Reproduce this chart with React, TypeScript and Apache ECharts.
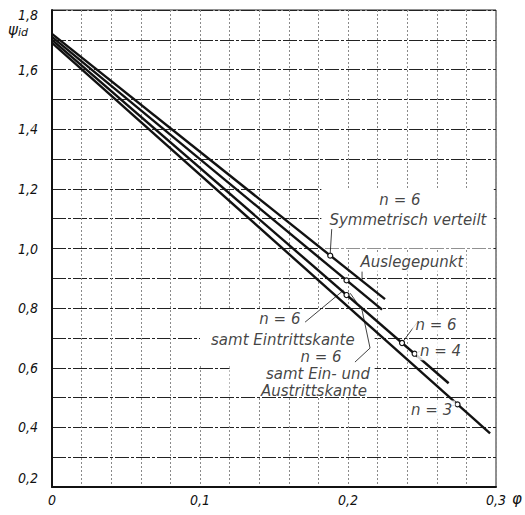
import React, { useEffect, useRef } from "react";
import * as echarts from "echarts";

// ---- data (φ, ψ_id) ----
const curveSymmetrisch: number[][] = [[0, 1.72], [0.225, 0.83]];
const curveEintritt: number[][] = [[0, 1.71], [0.223, 0.795]];
const curveN4: number[][] = [[0, 1.70], [0.268, 0.548]];
const curveN3: number[][] = [[0, 1.69], [0.296, 0.38]];

const designPoints: number[][] = [
  [0.188, 0.976],
  [0.199, 0.893],
  [0.199, 0.844],
  [0.2365, 0.683],
  [0.245, 0.647],
  [0.274, 0.477],
];

const annotationTexts: string[] = [
  "n = 6",
  "Symmetrisch verteilt",
  "Auslegepunkt",
  "n = 6",
  "samt Eintrittskante",
  "n = 6",
  "samt Ein- und",
  "Austrittskante",
  "n = 6",
  "n = 4",
  "n = 3",
];
const annotationPhi: number[] = [0.2351, 0.2405, 0.2432, 0.154, 0.156, 0.1818, 0.1797, 0.177, 0.2595, 0.2625, 0.2565];
const annotationPsi: number[] = [1.162, 1.095, 0.954, 0.762, 0.694, 0.636, 0.578, 0.521, 0.744, 0.657, 0.458];
const annotationBg: boolean[] = [false, false, true, false, false, false, false, false, true, true, true];

const leaders: number[][][] = [
  [[0.189, 1.065], [0.188, 0.985]],
  [[0.171, 0.753], [0.197, 0.86]],
  [[0.2047, 0.619], [0.2149, 0.666], [0.2095, 0.793], [0.2015, 0.85]],
  [[0.2095, 0.925], [0.2095, 0.894]],
  [[0.2473, 0.756], [0.2375, 0.69]],
  [[0.245, 0.647], [0.2485, 0.655]],
  [[0.2685, 0.47], [0.274, 0.477]],
];

// white paste-over areas hiding the grid behind the labels: [φ1, ψ1, φ2, ψ2]
const blankAreas: number[][] = [
  [0.182, 1.2, 0.2985, 1.0],
  [0.1, 0.797, 0.218, 0.61],
  [0.12, 0.61, 0.218, 0.505],
];

const xMin = 0, xMax = 0.3, xStep = 0.02;
const yMin = 0.2, yMax = 1.8, yStep = 0.1;

const tickFont = "'DejaVu Sans Condensed', 'DejaVu Sans', sans-serif";
const noteFont = "'DejaVu Sans', sans-serif";

export default function App() {
  const ref = useRef<HTMLDivElement>(null);
  useEffect(() => {
    document.body.style.margin = "0";
    if (!ref.current) return;
    const chart = echarts.init(ref.current, null, { renderer: "svg" });
    const lineSeries = (data: number[][], extra: any = {}) => ({
      type: "line",
      data,
      symbol: "none",
      z: 3,
      lineStyle: { color: "#111", width: 2.4 },
      silent: true,
      ...extra,
    });
    const tickText = { fontFamily: tickFont, fontStyle: "italic", fontSize: 14, color: "#111" };
    chart.setOption({
      animation: false,
      backgroundColor: "#fff",
      grid: {
        left: 52,
        right: 29,
        top: 10,
        bottom: 28,
        show: true,
        borderColor: "#222",
        borderWidth: 1,
      },
      xAxis: {
        type: "value",
        min: xMin,
        max: xMax,
        interval: xStep,
        name: "φ",
        nameLocation: "end",
        nameGap: 12,
        nameTextStyle: {
          fontFamily: noteFont,
          fontStyle: "italic",
          fontSize: 15,
          color: "#111",
          verticalAlign: "top",
          padding: [4, 0, 0, 0],
        },
        axisLine: { show: true, lineStyle: { color: "#111", width: 2 } },
        axisTick: { show: false },
        axisLabel: {
          margin: 6,
          ...tickText,
          formatter: (v: number) => {
            const t = Math.round(v * 100);
            if (t % 10 !== 0) return "";
            if (t === 0) return "0";
            return (t / 100).toFixed(1).replace(".", ",");
          },
        },
        splitLine: {
          show: true,
          lineStyle: { color: "#8a8a8a", width: 1, type: [2, 2] },
        },
      },
      yAxis: {
        type: "value",
        min: yMin,
        max: yMax,
        interval: yStep,
        name: "{a|ψ}{b|id}",
        nameLocation: "end",
        nameGap: -28,
        nameTextStyle: {
          align: "right",
          padding: [0, 24, 0, 0],
          rich: {
            a: { fontFamily: noteFont, fontStyle: "italic", fontSize: 15, color: "#111" },
            b: { fontFamily: noteFont, fontStyle: "italic", fontSize: 11, color: "#111", padding: [6, 0, 0, 0] },
          },
        },
        axisLine: { show: true, lineStyle: { color: "#111", width: 2 } },
        axisTick: { show: false },
        axisLabel: {
          margin: 14,
          ...tickText,
          formatter: (v: number) => {
            const t = Math.round(v * 10);
            if (t % 2 !== 0) return "";
            const s = (t / 10).toFixed(1).replace(".", ",");
            if (t === 18) return "{top|" + s + "}";
            if (t === 2) return "{bot|" + s + "}";
            return s;
          },
          rich: {
            top: { ...tickText, padding: [10, 0, 0, 0] },
            bot: { ...tickText, padding: [0, 0, 18, 0] },
          },
        },
        splitLine: {
          show: true,
          lineStyle: { color: "#222", width: 1, type: [14, 2, 3, 2] },
        },
      },
      series: [
        lineSeries(curveSymmetrisch, {
          markArea: {
            silent: true,
            itemStyle: { color: "#fff", opacity: 1, borderWidth: 0 },
            data: blankAreas.map((a) => [
              { coord: [a[0], a[1]] },
              { coord: [a[2], a[3]] },
            ]),
          },
        }),
        lineSeries(curveEintritt),
        lineSeries(curveN4),
        lineSeries(curveN3),
        {
          type: "lines",
          coordinateSystem: "cartesian2d",
          polyline: true,
          silent: true,
          z: 4,
          lineStyle: { color: "#111", width: 0.8, opacity: 1 },
          data: leaders.map((c) => ({ coords: c })),
        },
        {
          type: "scatter",
          data: designPoints,
          symbol: "circle",
          symbolSize: 5,
          z: 5,
          silent: true,
          itemStyle: { color: "#fff", borderColor: "#111", borderWidth: 1.2, opacity: 1 },
        },
        {
          type: "scatter",
          symbolSize: 0,
          z: 6,
          silent: true,
          data: annotationTexts.map((t, i) => ({
            value: [annotationPhi[i], annotationPsi[i]],
            label: {
              show: true,
              position: "inside",
              formatter: t,
              fontFamily: noteFont,
              fontStyle: "italic",
              fontSize: 15,
              lineHeight: 15,
              color: "#111",
              align: "center",
              verticalAlign: "middle",
              backgroundColor: annotationBg[i] ? "#fff" : "transparent",
              padding: annotationBg[i] ? [2, 3, 2, 3] : 0,
            },
          })),
        },
      ],
    });
    return () => chart.dispose();
  }, []);
  return <div ref={ref} style={{ width: 525, height: 515 }} />;
}
